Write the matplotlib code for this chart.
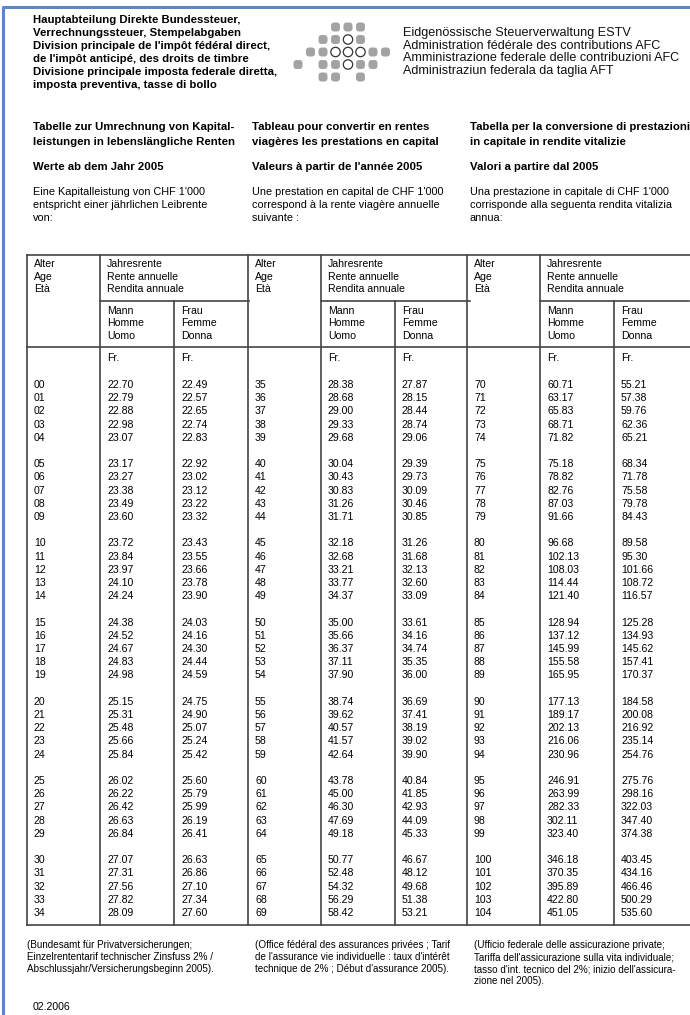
import matplotlib.pyplot as plt
from matplotlib.patches import FancyBboxPatch, Circle

plt.rcParams['font.family'] = ['Liberation Sans', 'DejaVu Sans']

# Header texts
office_lines = ["Hauptabteilung Direkte Bundessteuer,",
                "Verrechnungssteuer, Stempelabgaben",
                "Division principale de l'impôt fédéral direct,",
                "de l'impôt anticipé, des droits de timbre",
                "Divisione principale imposta federale diretta,",
                "imposta preventiva, tasse di bollo"]
admin_lines = ["Eidgenössische Steuerverwaltung ESTV",
               "Administration fédérale des contributions AFC",
               "Amministrazione federale delle contribuzioni AFC",
               "Administraziun federala da taglia AFT"]

titles = [["Tabelle zur Umrechnung von Kapital-", "leistungen in lebenslängliche Renten"],
          ["Tableau pour convertir en rentes", "viagères les prestations en capital"],
          ["Tabella per la conversione di prestazioni", "in capitale in rendite vitalizie"]]
years = ["Werte ab dem Jahr 2005", "Valeurs à partir de l'année 2005", "Valori a partire dal 2005"]
intros = [["Eine Kapitalleistung von CHF 1'000", "entspricht einer jährlichen Leibrente", "von:"],
          ["Une prestation en capital de CHF 1'000", "correspond à la rente viagère annuelle", "suivante :"],
          ["Una prestazione in capitale di CHF 1'000", "corrisponde alla seguenta rendita vitalizia", "annua:"]]
notes = [["(Bundesamt für Privatversicherungen;", "Einzelrententarif technischer Zinsfuss 2% /",
          "Abschlussjahr/Versicherungsbeginn 2005)."],
         ["(Office fédéral des assurances privées ; Tarif", "de l'assurance vie individuelle : taux d'intérêt",
          "technique de 2% ; Début d'assurance 2005)."],
         ["(Ufficio federale delle assicurazione private;", "Tariffa dell'assicurazione sulla vita individuale;",
          "tasso d'int. tecnico del 2%; inizio dell'assicura-", "zione nel 2005)."]]

# Table data
ages_1 = ["00", "01", "02", "03", "04", "05", "06", "07", "08", "09", "10", "11", "12", "13", "14",
          "15", "16", "17", "18", "19", "20", "21", "22", "23", "24", "25", "26", "27", "28", "29",
          "30", "31", "32", "33", "34"]
men_1 = [22.70, 22.79, 22.88, 22.98, 23.07, 23.17, 23.27, 23.38, 23.49, 23.60, 23.72, 23.84, 23.97,
         24.10, 24.24, 24.38, 24.52, 24.67, 24.83, 24.98, 25.15, 25.31, 25.48, 25.66, 25.84, 26.02,
         26.22, 26.42, 26.63, 26.84, 27.07, 27.31, 27.56, 27.82, 28.09]
women_1 = [22.49, 22.57, 22.65, 22.74, 22.83, 22.92, 23.02, 23.12, 23.22, 23.32, 23.43, 23.55, 23.66,
           23.78, 23.90, 24.03, 24.16, 24.30, 24.44, 24.59, 24.75, 24.90, 25.07, 25.24, 25.42, 25.60,
           25.79, 25.99, 26.19, 26.41, 26.63, 26.86, 27.10, 27.34, 27.60]
ages_2 = ["35", "36", "37", "38", "39", "40", "41", "42", "43", "44", "45", "46", "47", "48", "49",
          "50", "51", "52", "53", "54", "55", "56", "57", "58", "59", "60", "61", "62", "63", "64",
          "65", "66", "67", "68", "69"]
men_2 = [28.38, 28.68, 29.00, 29.33, 29.68, 30.04, 30.43, 30.83, 31.26, 31.71, 32.18, 32.68, 33.21,
         33.77, 34.37, 35.00, 35.66, 36.37, 37.11, 37.90, 38.74, 39.62, 40.57, 41.57, 42.64, 43.78,
         45.00, 46.30, 47.69, 49.18, 50.77, 52.48, 54.32, 56.29, 58.42]
women_2 = [27.87, 28.15, 28.44, 28.74, 29.06, 29.39, 29.73, 30.09, 30.46, 30.85, 31.26, 31.68, 32.13,
           32.60, 33.09, 33.61, 34.16, 34.74, 35.35, 36.00, 36.69, 37.41, 38.19, 39.02, 39.90, 40.84,
           41.85, 42.93, 44.09, 45.33, 46.67, 48.12, 49.68, 51.38, 53.21]
ages_3 = ["70", "71", "72", "73", "74", "75", "76", "77", "78", "79", "80", "81", "82", "83", "84",
          "85", "86", "87", "88", "89", "90", "91", "92", "93", "94", "95", "96", "97", "98", "99",
          "100", "101", "102", "103", "104"]
men_3 = [60.71, 63.17, 65.83, 68.71, 71.82, 75.18, 78.82, 82.76, 87.03, 91.66, 96.68, 102.13, 108.03,
         114.44, 121.40, 128.94, 137.12, 145.99, 155.58, 165.95, 177.13, 189.17, 202.13, 216.06,
         230.96, 246.91, 263.99, 282.33, 302.11, 323.40, 346.18, 370.35, 395.89, 422.80, 451.05]
women_3 = [55.21, 57.38, 59.76, 62.36, 65.21, 68.34, 71.78, 75.58, 79.78, 84.43, 89.58, 95.30, 101.66,
           108.72, 116.57, 125.28, 134.93, 145.62, 157.41, 170.37, 184.58, 200.08, 216.92, 235.14,
           254.76, 275.76, 298.16, 322.03, 347.40, 374.38, 403.45, 434.16, 466.46, 500.29, 535.60]

# ESTV logo pattern: 1 = grey dot, 2 = open ring, 0 = empty
logo = [[0, 0, 0, 1, 1, 1, 0, 0],
        [0, 0, 1, 1, 2, 1, 0, 0],
        [0, 1, 1, 2, 2, 2, 1, 1],
        [1, 0, 1, 1, 2, 1, 1, 0],
        [0, 0, 1, 1, 0, 1, 0, 0]]

W, H = 690, 1015
fig = plt.figure(figsize=(W / 100, H / 100), dpi=100)
ax = fig.add_axes([0, 0, 1, 1])
ax.set_xlim(0, W)
ax.set_ylim(H, 0)
ax.axis('off')

# page frame (blue)
ax.plot([3, 3, W], [H, 7, 7], color='#5b87c5', lw=2.2, solid_capstyle='butt')

# header left
for i, s in enumerate(office_lines):
    ax.text(33, 19.5 + i * 13, s, fontsize=8.2, fontweight='bold', va='center')

# logo
for r, row in enumerate(logo):
    for c, v in enumerate(row):
        cx, cy = 298 + c * 12.5, 27 + r * 12.5
        if v == 1:
            ax.add_patch(FancyBboxPatch((cx - 4.5, cy - 4.5), 9, 9,
                                        boxstyle='round,pad=0,rounding_size=3.4',
                                        fc='#a3a3a3', ec='none'))
        elif v == 2:
            ax.add_patch(Circle((cx, cy), 4.7, fc='white', ec='#333333', lw=0.9))

# header right
for i, s in enumerate(admin_lines):
    ax.text(403, 33 + i * 12.5, s, fontsize=9.1, va='center', color='#111111')

# titles / intros
col_x = [33, 252, 470]
for k in range(3):
    for i, s in enumerate(titles[k]):
        ax.text(col_x[k], 127 + i * 15, s, fontsize=8.2, fontweight='bold', va='center')
    ax.text(col_x[k], 167, years[k], fontsize=8.2, fontweight='bold', va='center')
    for i, s in enumerate(intros[k]):
        ax.text(col_x[k], 192 + i * 13, s, fontsize=7.8, va='center')

# table grid
top, sub, mid, bot = 255, 301, 347, 925
left = 27
group_x = [27, 248, 467]
age_w = 73
val_w = 74
lc = '#444444'
ax.plot([left, W], [top, top], color=lc, lw=1.2)
ax.plot([left, W], [mid, mid], color=lc, lw=1.2)
ax.plot([left, W], [bot, bot], color=lc, lw=1.2)
for gx in group_x:
    ax.plot([gx, gx], [top, bot], color=lc, lw=1.2)
    ax.plot([gx + age_w, gx + age_w], [top, bot], color=lc, lw=1.2)
    ax.plot([gx + age_w + val_w, gx + age_w + val_w], [sub, bot], color=lc, lw=1.2)
    ax.plot([gx + age_w, min(gx + age_w + 2 * val_w + 1, W)], [sub, sub], color=lc, lw=1.2)

hdr = dict(fontsize=7.6, va='center')
for gx in group_x:
    for i, s in enumerate(["Alter", "Age", "Età"]):
        ax.text(gx + 7, 264 + i * 12.5, s, **hdr)
    for i, s in enumerate(["Jahresrente", "Rente annuelle", "Rendita annuale"]):
        ax.text(gx + age_w + 7, 264 + i * 12.5, s, **hdr)
    for i, s in enumerate(["Mann", "Homme", "Uomo"]):
        ax.text(gx + age_w + 7, 311 + i * 12.5, s, **hdr)
    for i, s in enumerate(["Frau", "Femme", "Donna"]):
        ax.text(gx + age_w + val_w + 7, 311 + i * 12.5, s, **hdr)
    ax.text(gx + age_w + 7, 358, "Fr.", **hdr)
    ax.text(gx + age_w + val_w + 7, 358, "Fr.", **hdr)

# data rows: groups of five, one blank row between groups
for gx, ages, men, women in zip(group_x, [ages_1, ages_2, ages_3],
                                [men_1, men_2, men_3], [women_1, women_2, women_3]):
    for i, (a, m, f) in enumerate(zip(ages, men, women)):
        y = 385 + (i // 5 * 6 + i % 5) * 13.2
        ax.text(gx + 7, y, a, **hdr)
        ax.text(gx + age_w + 7, y, f"{m:.2f}", **hdr)
        ax.text(gx + age_w + val_w + 7, y, f"{f:.2f}", **hdr)

# footnotes
note_x = [27, 255, 474]
for k in range(3):
    for i, s in enumerate(notes[k]):
        ax.text(note_x[k], 945 + i * 12, s, fontsize=7.1, va='center')

ax.text(33, 1007, "02.2006", fontsize=7.6, va='center')

fig.savefig('out.png', dpi=100)
